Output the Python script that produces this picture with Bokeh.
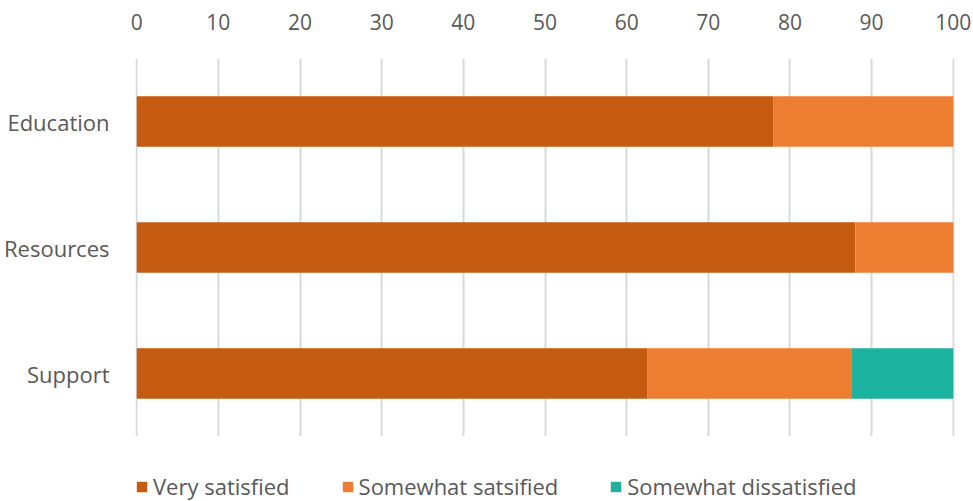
from bokeh.plotting import figure
from bokeh.layouts import column
from bokeh.models import ColumnDataSource, Legend, LegendItem, FixedTicker, Range1d
from bokeh.embed import file_html
from bokeh.resources import INLINE

categories = ["Education", "Resources", "Support"]
series_names = ["Very satisfied", "Somewhat satsified", "Somewhat dissatisfied"]
very_satisfied = [78.0, 88.0, 62.5]
somewhat_satisfied = [22.0, 12.0, 25.0]
somewhat_dissatisfied = [0.0, 0.0, 12.5]
x_ticks = [0, 10, 20, 30, 40, 50, 60, 70, 80, 90, 100]

colors = ["#C55A11", "#ED7D31", "#1BB3A0"]
FONT = "Open Sans"
TEXT_COLOR = "#595959"

source = ColumnDataSource(dict(
    cat=categories,
    very=very_satisfied,
    somewhat=somewhat_satisfied,
    dis=somewhat_dissatisfied,
))

# main stacked bar chart
p = figure(
    width=973, height=436,
    y_range=list(reversed(categories)),
    x_range=(-0.15, 100.15),
    x_axis_location="above",
    output_backend="svg",
    toolbar_location=None,
    min_border_left=135, min_border_right=19,
    min_border_top=58, min_border_bottom=0,
)

p.hbar_stack(
    ["very", "somewhat", "dis"], y="cat", height=0.4,
    color=colors, line_color=None, source=source,
)

p.outline_line_color = None
p.ygrid.grid_line_color = None
p.xgrid.grid_line_color = "#D9D9D9"
p.xgrid.grid_line_width = 2
p.xgrid.ticker = FixedTicker(ticks=x_ticks)

xa = p.xaxis[0]
xa.ticker = FixedTicker(ticks=x_ticks)
xa.axis_line_color = None
xa.major_tick_line_color = None
xa.minor_tick_line_color = None
xa.major_tick_out = 0
xa.major_tick_in = 0
xa.major_label_text_font = FONT
xa.major_label_text_font_size = "21px"
xa.major_label_text_color = TEXT_COLOR
xa.major_label_standoff = 29

ya = p.yaxis[0]
ya.axis_line_color = None
ya.major_tick_line_color = None
ya.minor_tick_line_color = None
ya.major_tick_out = 0
ya.major_tick_in = 0
ya.major_label_text_font = FONT
ya.major_label_text_font_size = "22px"
ya.major_label_text_color = TEXT_COLOR
ya.major_label_standoff = 26

# legend strip underneath (its frame lines up with the chart frame)
lg = figure(
    width=973, height=65,
    x_range=Range1d(0, 1), y_range=Range1d(0, 1),
    output_backend="svg",
    toolbar_location=None,
    min_border=0,
)
lg.axis.visible = False
lg.grid.visible = False
lg.outline_line_color = None

# off-screen swatch renderers that only feed the legend glyphs
swatches = [
    lg.hbar(y=[5], left=[5], right=[6], height=0.5, color=c, line_color=None)
    for c in colors
]

legend = Legend(
    items=[LegendItem(label=n, renderers=[r]) for n, r in zip(series_names, swatches)],
    orientation="horizontal",
    location=(0, 0),
    label_text_font=FONT,
    label_text_font_size="22px",
    label_text_color=TEXT_COLOR,
    glyph_width=13, glyph_height=13,
    spacing=51,
    label_standoff=5,
    border_line_color=None,
    background_fill_alpha=0,
    padding=0, margin=0,
)
lg.add_layout(legend, "center")

layout = column(p, lg, spacing=0)

open("out.html", "w").write(file_html(layout, INLINE))
